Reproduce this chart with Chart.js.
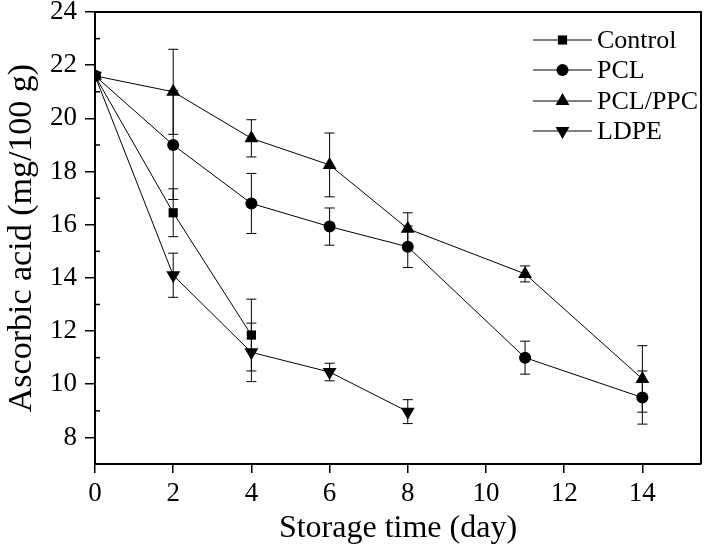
<!DOCTYPE html>
<html>
<head>
<meta charset="utf-8">
<script src="https://cdn.jsdelivr.net/npm/chart.js@4.4.0/dist/chart.umd.min.js"></script>
<style>
  html, body { margin: 0; padding: 0; background: #fff; }
  #wrap { width: 709px; height: 554px; }
</style>
</head>
<body>
<div id="wrap"><canvas id="ascorbicChart"></canvas></div>
<script>
// storage days per treatment
const controlDays = [0, 2, 4]
const pclDays = [0, 2, 4, 6, 8, 11, 14]
const pclPpcDays = [0, 2, 4, 6, 8, 11, 14]
const ldpeDays = [0, 2, 4, 6, 8]

// ascorbic acid (mg/100 g) and error (+/-)
const controlValues = [21.6, 16.45, 11.85]
const controlErrors = [0, 0.9, 1.35]
const pclValues = [21.6, 19.0, 16.8, 15.93, 15.17, 11.0, 9.5]
const pclErrors = [0, 2.05, 1.13, 0.7, 0.78, 0.62, 1.0]
const pclPpcValues = [21.6, 21.0, 19.25, 18.25, 15.85, 14.15, 10.2]
const pclPpcErrors = [0, 1.6, 0.7, 1.2, 0.6, 0.3, 1.25]
const ldpeValues = [21.6, 14.1, 11.2, 10.46, 8.97]
const ldpeErrors = [0, 0.83, 1.1, 0.33, 0.45]

const xTicks = [0, 2, 4, 6, 8, 10, 12, 14]
const yTicks = [8, 10, 12, 14, 16, 18, 20, 22, 24]
const yMinorTicks = [9, 11, 13, 15, 17, 19, 21, 23]

const serif = "'Liberation Serif', 'DejaVu Serif', serif"

function toPoints(days, values) {
  return days.map((d, i) => ({ x: d, y: values[i] }))
}

function makeDataset(label, days, values, errors, pointStyle, radius, rotation) {
  return {
    label: label,
    data: toPoints(days, values),
    errors: errors,
    borderColor: '#000',
    backgroundColor: '#000',
    borderWidth: 1,
    pointStyle: pointStyle,
    pointRadius: radius,
    pointRotation: rotation,
    pointBackgroundColor: '#000',
    pointBorderColor: '#000',
    pointBorderWidth: 0,
    tension: 0,
    fill: false
  }
}

const data = {
  datasets: [
    makeDataset('Control', controlDays, controlValues, controlErrors, 'rect', 6.5, 0),
    makeDataset('PCL', pclDays, pclValues, pclErrors, 'circle', 6, 0),
    makeDataset('PCL/PPC', pclPpcDays, pclPpcValues, pclPpcErrors, 'triangle', 8, 0),
    makeDataset('LDPE', ldpeDays, ldpeValues, ldpeErrors, 'triangle', 8, 180)
  ]
}

// error bars drawn from the scales
const errorBars = {
  id: 'errorBars',
  afterDatasetsDraw(chart) {
    const { ctx, scales: { x, y } } = chart
    ctx.save()
    ctx.strokeStyle = '#000'
    ctx.lineWidth = 1
    chart.data.datasets.forEach(ds => {
      ds.data.forEach((p, i) => {
        const err = ds.errors[i]
        if (!err) return
        const px = x.getPixelForValue(p.x)
        const top = y.getPixelForValue(p.y + err)
        const bot = y.getPixelForValue(p.y - err)
        ctx.beginPath()
        ctx.moveTo(px, top)
        ctx.lineTo(px, bot)
        ctx.moveTo(px - 5, top)
        ctx.lineTo(px + 5, top)
        ctx.moveTo(px - 5, bot)
        ctx.lineTo(px + 5, bot)
        ctx.stroke()
      })
    })
    ctx.restore()
  }
}

// box frame + inward minor ticks on y
const frame = {
  id: 'frame',
  afterDraw(chart) {
    const { ctx, chartArea: a, scales: { y } } = chart
    ctx.save()
    ctx.strokeStyle = '#000'
    ctx.lineWidth = 2
    ctx.beginPath()
    ctx.moveTo(a.left, a.top)
    ctx.lineTo(a.right, a.top)
    ctx.lineTo(a.right, a.bottom)
    ctx.stroke()
    ctx.lineWidth = 1.5
    yMinorTicks.forEach(v => {
      const py = y.getPixelForValue(v)
      ctx.beginPath()
      ctx.moveTo(a.left, py)
      ctx.lineTo(a.left + 5, py)
      ctx.stroke()
    })
    ctx.restore()
  }
}

// legend with line through marker
const lineLegend = {
  id: 'lineLegend',
  afterDraw(chart) {
    const ctx = chart.ctx
    const x0 = 533, x1 = 592, textX = 597
    const rows = [40, 70, 101, 131]
    ctx.save()
    ctx.fillStyle = '#000'
    ctx.strokeStyle = '#000'
    ctx.font = '26px ' + serif
    ctx.textBaseline = 'middle'
    chart.data.datasets.forEach((ds, i) => {
      const ry = rows[i]
      ctx.lineWidth = 1
      ctx.beginPath()
      ctx.moveTo(x0, ry)
      ctx.lineTo(x1, ry)
      ctx.stroke()
      Chart.helpers.drawPoint(ctx, {
        pointStyle: ds.pointStyle,
        radius: ds.pointRadius,
        rotation: ds.pointRotation,
        borderWidth: 0
      }, (x0 + x1) / 2, ry)
      ctx.fillText(ds.label, textX, ry + 1)
    })
    ctx.restore()
  }
}

const options = {
  responsive: true,
  maintainAspectRatio: false,
  animation: false,
  layout: { padding: { top: 12, right: 2, left: 0, bottom: 0 } },
  plugins: {
    legend: { display: false },
    tooltip: { enabled: false }
  },
  scales: {
    x: {
      type: 'linear',
      min: 0,
      max: 15.5,
      afterBuildTicks: scale => { scale.ticks = xTicks.map(v => ({ value: v })) },
      afterFit: scale => { scale.height = 90 },
      border: { display: true, color: '#000', width: 2 },
      grid: { drawOnChartArea: false, drawTicks: true, tickLength: 9, color: '#000', lineWidth: 1.5 },
      ticks: { color: '#000', padding: 5, font: { family: serif, size: 27 }, maxRotation: 0 },
      title: { display: true, text: 'Storage time (day)', color: '#000', padding: { top: 0, bottom: 6 }, font: { family: serif, size: 32 } }
    },
    y: {
      min: 7,
      max: 24,
      afterBuildTicks: scale => { scale.ticks = yTicks.map(v => ({ value: v })) },
      afterFit: scale => { scale.width = 95 },
      border: { display: true, color: '#000', width: 2 },
      grid: { drawOnChartArea: false, drawTicks: true, tickLength: 10, color: '#000', lineWidth: 1.5 },
      // small lineHeight so the top label does not push the plot area down
      ticks: { color: '#000', padding: 8, font: { family: serif, size: 27, lineHeight: 0.3 } },
      title: { display: true, text: 'Ascorbic acid (mg/100 g)', color: '#000', padding: { top: 2, bottom: 0 }, font: { family: serif, size: 34 } }
    }
  }
}

new Chart(document.getElementById('ascorbicChart'), {
  type: 'line',
  data: data,
  options: options,
  plugins: [errorBars, frame, lineLegend]
})
</script>
</body>
</html>
